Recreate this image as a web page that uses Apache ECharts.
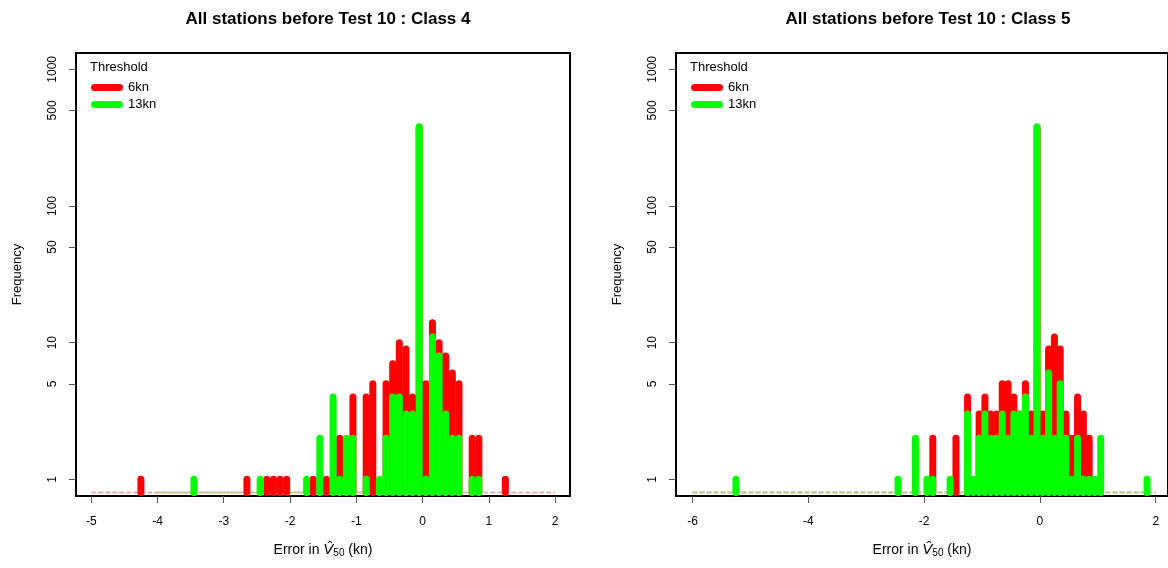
<!DOCTYPE html>
<html>
<head>
<meta charset="utf-8">
<script src="https://cdn.jsdelivr.net/npm/echarts@6/dist/echarts.min.js"></script>
<style>html,body{margin:0;padding:0;background:#fff;}#c{width:1168px;height:568px;}</style>
</head>
<body>
<div id="c"></div>
<script>
// ---- data ----
const titles = ['All stations before Test 10 : Class 4', 'All stations before Test 10 : Class 5'];
const seriesNames = ['6kn', '13kn'];
// Class 4 (left panel): bin centres and frequencies
const binsC4 = [-4.25,-3.45,-2.65,-2.45,-2.35,-2.25,-2.15,-2.05,-1.75,-1.65,-1.55,-1.45,-1.35,-1.25,-1.15,-1.05,-0.85,-0.75,-0.65,-0.55,-0.45,-0.35,-0.25,-0.15,-0.05,0.05,0.15,0.25,0.35,0.45,0.55,0.75,0.85,1.25];
const red6C4 =   [1,0,1,0,1,1,1,1,0,1,0,1,0,2,0,4,4,5,0,5,7,10,9,4,370,5,14,10,8,6,5,2,2,1];
const green13C4 =[0,1,0,1,0,0,0,0,1,0,2,0,4,1,2,2,1,0,1,2,4,4,3,3,380,1,11,8,3,2,2,1,1,0];
// Class 5 (right panel)
const binsC5 = [-5.25,-2.45,-2.15,-1.95,-1.85,-1.55,-1.45,-1.25,-1.15,-1.05,-0.95,-0.85,-0.75,-0.65,-0.55,-0.45,-0.35,-0.25,-0.15,-0.05,0.05,0.15,0.25,0.35,0.45,0.55,0.65,0.75,0.85,0.95,1.05,1.85];
const red6C5 =   [0,0,0,0,2,0,2,4,0,3,4,3,3,5,5,4,3,5,3,370,3,9,11,9,3,2,4,3,2,0,0,0];
const green13C5 =[1,1,2,1,1,1,0,3,1,2,3,2,2,3,2,3,3,4,2,380,2,6,2,5,2,1,2,1,1,1,2,1];
// extent of the zero-count baseline for each series
const zeroRangeC4 = {red: [-5, 2], green: [-4, 0.9]};
const zeroRangeC5 = {red: [-6, 2], green: [-6, 2]};
const xTicksC4 = [-5,-4,-3,-2,-1,0,1,2];
const xTicksC5 = [-6,-4,-2,0,2];
const yTicks = [1,5,10,50,100,500,1000];
const ZERO_LEVEL = 0.8;

// ---- styling ----
const RED = '#ff0000', GREEN = '#00ff00';
const PALE_RED = '#ffa8a8', PALE_GREEN = '#b0d888';
const FONT = 'Liberation Sans, Arial, Helvetica, sans-serif';
const chart = echarts.init(document.getElementById('c'), null, {renderer: 'canvas'});

function renderSpike(params, api) {
  const x = api.value(0), y = api.value(1);
  if (!(y > 0)) return null;
  const top = api.coord([x, y]);
  const bot = api.coord([x, ZERO_LEVEL]);
  return {
    type: 'line',
    shape: {x1: top[0], y1: bot[1], x2: top[0], y2: top[1]},
    style: {stroke: api.visual('color'), lineWidth: 7, lineCap: 'round'}
  };
}
function pairs(xs, ys) { return xs.map((x, i) => [x, ys[i]]); }

const grids = [
  {left: 76, top: 53, width: 494, height: 443},
  {left: 676, top: 53, width: 492, height: 443}
];
const xCfg = [
  {min: -5.23, max: 2.226, ticks: xTicksC4},
  {min: -6.285, max: 2.212, ticks: xTicksC5}
];
const panelCenters = [323, 923];

const xAxes = xCfg.map((c, i) => ({
  type: 'value', gridIndex: i, min: c.min, max: c.max,
  axisLine: {show: false, onZero: false},
  splitLine: {show: false},
  axisTick: {show: true, inside: false, length: 7, customValues: c.ticks, lineStyle: {color: '#555', width: 1}},
  axisLabel: {customValues: c.ticks, margin: 20, color: '#000', fontSize: 12, fontFamily: FONT,
              formatter: v => String(v)},
  name: '{t|Error in }{v|V\u0302}{s|50}{t| (kn)}',
  nameLocation: 'middle', nameGap: 46,
  nameTextStyle: {
    rich: {
      t: {fontSize: 14, fontFamily: FONT, color: '#000'},
      v: {fontSize: 15, fontFamily: FONT, fontStyle: 'italic', color: '#000'},
      s: {fontSize: 10, fontFamily: FONT, color: '#000', verticalAlign: 'bottom', padding: [6, 0, 0, 0]}
    }
  }
}));
const yAxes = [0, 1].map(i => ({
  type: 'log', logBase: 10, gridIndex: i, min: 0.755, max: 1316,
  axisLine: {show: false, onZero: false},
  splitLine: {show: false},
  axisTick: {show: true, length: 7, customValues: yTicks, lineStyle: {color: '#555', width: 1}},
  axisLabel: {customValues: yTicks, rotate: 90, margin: 17, color: '#000', fontSize: 12, fontFamily: FONT,
              formatter: v => String(Math.round(v))},
  name: 'Frequency', nameLocation: 'middle', nameRotate: 90, nameGap: 52,
  nameTextStyle: {fontSize: 13, fontFamily: FONT, color: '#000'}
}));

const series = [];
[[binsC4, red6C4, green13C4, zeroRangeC4], [binsC5, red6C5, green13C5, zeroRangeC5]].forEach((p, i) => {
  const [bins, r, g, zr] = p;
  series.push({
    type: 'line', xAxisIndex: i, yAxisIndex: i, silent: true, symbol: 'none', z: 1,
    data: zr.red.map(x => [x, ZERO_LEVEL]), lineStyle: {color: PALE_RED, width: 2, type: [5, 2]}
  });
  series.push({
    type: 'line', xAxisIndex: i, yAxisIndex: i, silent: true, symbol: 'none', z: 1,
    data: zr.green.map(x => [x, ZERO_LEVEL]), lineStyle: {color: PALE_GREEN, width: 2, type: [5, 2]}
  });
  series.push({
    name: seriesNames[0], type: 'custom', xAxisIndex: i, yAxisIndex: i, clip: true, z: 2,
    itemStyle: {color: RED}, renderItem: renderSpike, data: pairs(bins, r)
  });
  series.push({
    name: seriesNames[1], type: 'custom', xAxisIndex: i, yAxisIndex: i, clip: true, z: 3,
    itemStyle: {color: GREEN}, renderItem: renderSpike, data: pairs(bins, g)
  });
});

const legendIcon = 'path://M3.5 0L28.5 0A3.5 3.5 0 0 1 28.5 7L3.5 7A3.5 3.5 0 0 1 3.5 0Z';
const legends = [86, 686].map(l => ({
  left: l, top: 76, orient: 'vertical', itemWidth: 32, itemHeight: 7, itemGap: 4,
  icon: legendIcon, selectedMode: false,
  data: seriesNames,
  textStyle: {fontSize: 13, fontFamily: FONT, color: '#000'}
}));

const titleComps = titles.map((t, i) => ({
  text: t, left: panelCenters[i], top: 6, textAlign: 'center',
  textStyle: {fontSize: 17, fontWeight: 'bold', fontFamily: FONT, color: '#000'}
})).concat([90, 690].map(l => ({
  text: 'Threshold', left: l, top: 61, padding: 0,
  textStyle: {fontSize: 13, fontWeight: 'normal', fontFamily: FONT, color: '#000'}
})));

grids.forEach(g => { g.show = true; g.borderColor = '#000'; g.borderWidth = 2; g.backgroundColor = 'transparent'; });

chart.setOption({
  animation: false,
  backgroundColor: '#fff',
  title: titleComps,
  grid: grids,
  xAxis: xAxes,
  yAxis: yAxes,
  legend: legends,
  series: series
});
</script>
</body>
</html>
